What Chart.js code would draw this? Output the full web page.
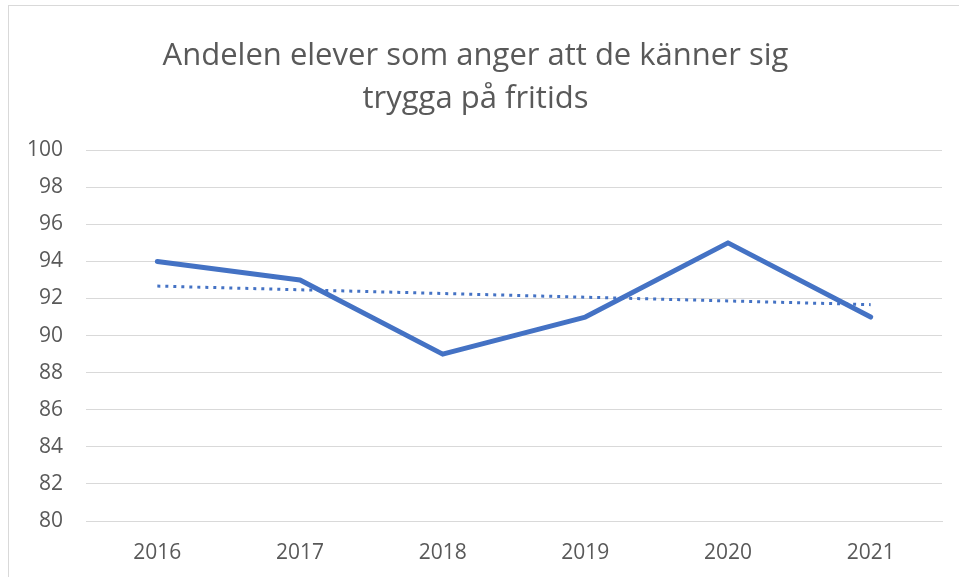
<!DOCTYPE html>
<html>
<head>
<meta charset="utf-8">
<script src="https://cdn.jsdelivr.net/npm/chart.js@4"></script>
<style>
  html, body { margin: 0; padding: 0; background: #fff; overflow: hidden; }
  #wrap {
    position: absolute; left: 8px; top: 5px;
    width: 951px; height: 572px;
    border-left: 1px solid #d9d9d9; border-top: 1px solid #d9d9d9;
  }
</style>
</head>
<body>
<div id="wrap"><canvas id="myChart" width="950" height="571"></canvas></div>
<script>
// chart data
var years = ["2016", "2017", "2018", "2019", "2020", "2021"];
var andel = [94, 93, 89, 91, 95, 91];
// dotted trend line
var trend = [92.67, 92.47, 92.27, 92.07, 91.87, 91.67];
var yMin = 80;
var yMax = 100;
var yStep = 2;

window.onload = function () {
  var ctx = document.getElementById("myChart").getContext("2d");
  var blue = "#4472c4";
  var textColor = "#595959";
  var gridColor = "#d9d9d9";

  var myChart = new Chart(ctx, {
    type: "line",
    data: {
      labels: years,
      datasets: [
        {
          label: "Andel",
          data: andel,
          borderColor: blue,
          borderWidth: 5,
          pointRadius: 0,
          tension: 0,
          borderJoinStyle: "round",
          borderCapStyle: "round",
        },
        {
          label: "Trend",
          data: trend,
          borderColor: blue,
          borderWidth: 3,
          borderDash: [3, 5],
          pointRadius: 0,
          tension: 0,
        },
      ],
    },
    options: {
      responsive: false,
      animation: false,
      layout: { padding: { left: 0, right: 17, top: 0, bottom: 0 } },
      plugins: {
        legend: { display: false },
        tooltip: { enabled: false },
        title: {
          display: true,
          text: ["Andelen elever som anger att de känner sig", "trygga på fritids"],
          color: textColor,
          font: { family: "'Open Sans', sans-serif", size: 31, weight: "normal", lineHeight: 1.39 },
          padding: { top: 29, bottom: 29 },
        },
      },
      scales: {
        x: {
          offset: true,
          grid: { display: false },
          border: { display: true, color: gridColor, width: 1 },
          ticks: {
            color: textColor,
            font: { family: "'Open Sans', sans-serif", size: 21 },
            padding: 11,
            maxRotation: 0,
          },
          afterFit: function (scale) { scale.height = 56; },
        },
        y: {
          min: yMin,
          max: yMax,
          grid: { color: gridColor, lineWidth: 1, drawTicks: false },
          border: { display: false },
          ticks: {
            stepSize: yStep,
            color: textColor,
            font: { family: "'Open Sans', sans-serif", size: 21 },
            padding: 23,
          },
          afterFit: function (scale) { scale.width = 77; },
        },
      },
    },
  });
};
</script>
</body>
</html>
